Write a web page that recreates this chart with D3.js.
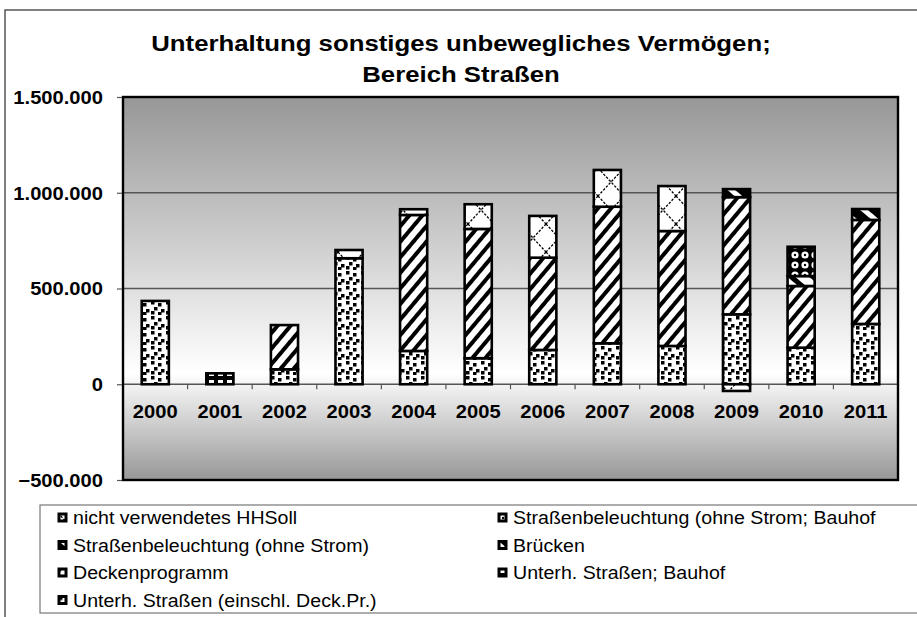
<!DOCTYPE html>
<html>
<head>
<meta charset="utf-8">
<script src="https://cdn.jsdelivr.net/npm/d3@7"></script>
<style>
body { margin: 0; background: #fff; }
svg { display: block; font-family: Arial, "Liberation Sans", sans-serif; }
</style>
</head>
<body>
<svg width="917" height="617"></svg>
<script>
// values (EUR)
var years = ["2000", "2001", "2002", "2003", "2004", "2005", "2006", "2007", "2008", "2009", "2010", "2011"];

var unterhStrDeck   = [435000, 0, 78000, 658000, 174000, 136000, 179000, 214000, 200000, 365000, 191000, 315000];
var unterhStrBauhof = [0, 57000, 0, 0, 0, 0, 0, 0, 0, 0, 0, 0];
var deckenprogramm  = [0, 0, 231000, 0, 710000, 675000, 482000, 713000, 600000, 612000, 322000, 543000];
var bruecken        = [0, 0, 0, 0, 0, 0, 0, 0, 0, 0, 52000, 0];
var beleuchtung     = [0, 0, 0, 0, 0, 0, 0, 0, 0, 42000, 0, 57000];
var beleuchtBauhof  = [0, 0, 0, 0, 0, 0, 0, 0, 0, 0, 153000, 0];
var hhSollRest      = [0, 0, 0, 43000, 30000, 129000, 218000, 192000, 235000, -35000, 0, 0];

var yTicks = [-500000, 0, 500000, 1000000, 1500000];
var gridTicks = [500000, 1000000];

// stacking order, bottom to top
var series = [
  { key: "deck",   name: "Unterh. Straßen (einschl. Deck.Pr.)", values: unterhStrDeck,   fill: "pDots" },
  { key: "bauhof", name: "Unterh. Straßen; Bauhof",             values: unterhStrBauhof, fill: "pBlocks" },
  { key: "decken", name: "Deckenprogramm",                      values: deckenprogramm,  fill: "pStripes" },
  { key: "brueck", name: "Brücken",                             values: bruecken,        fill: "pSwoosh" },
  { key: "bel",    name: "Straßenbeleuchtung (ohne Strom)",     values: beleuchtung,     fill: "pBand" },
  { key: "belBh",  name: "Straßenbeleuchtung (ohne Strom; Bauhof", values: beleuchtBauhof, fill: "pCircles" },
  { key: "soll",   name: "nicht verwendetes HHSoll",            values: hhSollRest,      fill: "pCross" }
];

var svg = d3.select("svg");
var sx = 1.12; // reference text is a bit wider than plain Arial

// note: "top" is taken by window.top, so plot edges get their own names
var plotL = 123, plotR = 898, plotT = 97, plotB = 480;

var x = d3.scaleBand().domain(years).range([plotL, plotR]).paddingInner(0.58).paddingOuter(0.29);
var y = d3.scaleLinear().domain([-500000, 1500000]).range([plotB, plotT]);

var de = d3.formatLocale({ decimal: ",", thousands: ".", grouping: [3], currency: ["", " €"] });
var fmt = de.format(",d");

// ---- defs: gradient + fill patterns
var defs = svg.append("defs");

var grad = defs.append("linearGradient").attr("id", "bg").attr("x1", 0).attr("y1", 0).attr("x2", 0).attr("y2", 1);
grad.append("stop").attr("offset", "0%").attr("stop-color", "#979797");
grad.append("stop").attr("offset", "72%").attr("stop-color", "#ffffff");
grad.append("stop").attr("offset", "100%").attr("stop-color", "#979797");

function pattern(id, w, h, bg, rot) {
  var p = defs.append("pattern").attr("id", id)
    .attr("patternUnits", "userSpaceOnUse").attr("width", w).attr("height", h);
  if (rot) p.attr("patternTransform", "rotate(" + rot + ")");
  p.append("rect").attr("width", w).attr("height", h).attr("fill", bg);
  return p;
}

var pd = pattern("pDots", 15, 15, "#fff");
[[1, 1], [8, 3], [4, 7], [11, 9], [1, 11], [8, 12]].forEach(function(d) {
  pd.append("rect").attr("x", d[0]).attr("y", d[1]).attr("width", 3.5).attr("height", 3.5).attr("fill", "#000");
});

var pb = pattern("pBlocks", 9, 7, "#000");
pb.append("rect").attr("x", 2).attr("y", 2).attr("width", 5).attr("height", 3).attr("fill", "#fff");

var ps = pattern("pStripes", 10, 10, "#fff", 40);
ps.append("rect").attr("width", 4).attr("height", 10).attr("fill", "#000");

var pw = pattern("pSwoosh", 14, 14, "#fff", -50);
pw.append("rect").attr("width", 5).attr("height", 14).attr("fill", "#000");

var pn = pattern("pBand", 14, 14, "#000", -50);
pn.append("rect").attr("width", 5).attr("height", 14).attr("fill", "#fff");

var pc = pattern("pCircles", 10, 10, "#000");
pc.append("circle").attr("cx", 5).attr("cy", 5).attr("r", 3.6).attr("fill", "#fff");
pc.append("circle").attr("cx", 5).attr("cy", 5).attr("r", 1.2).attr("fill", "#000");

var px = pattern("pCross", 26, 28, "#fff");
px.append("path").attr("d", "M0,0L26,28M26,0L0,28")
  .attr("stroke", "#000").attr("stroke-width", 1.3).attr("stroke-dasharray", "2.5,1.5").attr("fill", "none");

// ---- outer frame
svg.append("rect").attr("x", 5).attr("y", 10).attr("width", 940).attr("height", 640)
  .attr("fill", "none").attr("stroke", "#555").attr("stroke-width", 1.5);

// ---- title
function stretchedText(g, tx, ty, str, size, weight, anchor) {
  return g.append("text")
    .attr("transform", "translate(" + tx + "," + ty + ") scale(" + sx + ",1)")
    .attr("text-anchor", anchor || "start")
    .style("font-size", size + "px").style("font-weight", weight || "normal")
    .text(str);
}
stretchedText(svg, 461, 51, "Unterhaltung sonstiges unbewegliches Vermögen;", 23, "bold", "middle");
stretchedText(svg, 461, 82, "Bereich Straßen", 23, "bold", "middle");

// ---- plot background
svg.append("rect").attr("x", plotL).attr("y", plotT).attr("width", plotR - plotL).attr("height", plotB - plotT)
  .attr("fill", "url(#bg)");

svg.append("g").selectAll("line").data(gridTicks).join("line")
  .attr("x1", plotL).attr("x2", plotR)
  .attr("y1", function(d) { return y(d); }).attr("y2", function(d) { return y(d); })
  .attr("stroke", "#555").attr("stroke-width", 1.6);

// zero line with ticks between categories
var zero = svg.append("g");
zero.append("line").attr("x1", plotL).attr("x2", plotR).attr("y1", y(0)).attr("y2", y(0))
  .attr("stroke", "#555").attr("stroke-width", 1.6);
zero.selectAll("line.tk").data(years.slice(1)).join("line").attr("class", "tk")
  .attr("x1", function(d) { return x(d) - x.step() * x.paddingInner() / 2; })
  .attr("x2", function(d) { return x(d) - x.step() * x.paddingInner() / 2; })
  .attr("y1", y(0)).attr("y2", y(0) + 5)
  .attr("stroke", "#555").attr("stroke-width", 1.2);

// ---- stacked bars
var rows = years.map(function(yr, i) {
  var r = { year: yr };
  series.forEach(function(s) { r[s.key] = s.values[i]; });
  return r;
});

var stack = d3.stack().keys(series.map(function(s) { return s.key; }))
  .offset(d3.stackOffsetDiverging);
var stacked = stack(rows);

svg.append("g").selectAll("g").data(stacked).join("g")
  .attr("fill", function(d, i) { return "url(#" + series[i].fill + ")"; })
  .selectAll("rect")
  .data(function(d) { return d.filter(function(v) { return v[1] !== v[0]; }); })
  .join("rect")
  .attr("x", function(d) { return x(d.data.year); })
  .attr("width", x.bandwidth())
  .attr("y", function(d) { return y(Math.max(d[0], d[1])); })
  .attr("height", function(d) { return Math.abs(y(d[0]) - y(d[1])); })
  .attr("stroke", "#000").attr("stroke-width", 2.6);

// plot border
svg.append("rect").attr("x", plotL).attr("y", plotT).attr("width", plotR - plotL).attr("height", plotB - plotT)
  .attr("fill", "none").attr("stroke", "#000").attr("stroke-width", 2.4);

// ---- y axis
var yAxis = svg.append("g").attr("transform", "translate(" + (plotL - 1) + ",0)")
  .call(d3.axisLeft(y).tickValues(yTicks).tickFormat(fmt).tickSize(5).tickSizeOuter(0));
yAxis.select(".domain").remove();
yAxis.selectAll(".tick line").attr("stroke", "#555").attr("stroke-width", 1.2);
yAxis.selectAll(".tick text")
  .attr("x", -19 / sx).attr("dy", "0.36em")
  .attr("transform", "scale(" + sx + ",1)")
  .style("font-size", "18px").style("font-weight", "bold").attr("fill", "#000");

// ---- year labels
svg.append("g").selectAll("text").data(years).join("text")
  .attr("transform", function(d) { return "translate(" + (x(d) + x.bandwidth() / 2) + ",418) scale(" + sx + ",1)"; })
  .attr("text-anchor", "middle")
  .style("font-size", "18px").style("font-weight", "bold")
  .text(function(d) { return d; });

// ---- legend
svg.append("rect").attr("x", 40).attr("y", 505).attr("width", 900).attr("height", 108)
  .attr("fill", "#fff").attr("stroke", "#777").attr("stroke-width", 1.2);

var legendItems = series.slice().reverse();
var leg = svg.append("g").selectAll("g").data(legendItems).join("g")
  .attr("transform", function(d, i) {
    var col = i % 2, row = Math.floor(i / 2);
    return "translate(" + (col ? 498 : 58) + "," + (513 + row * 27.5) + ")";
  });
// small markers read as black squares with a bit of the pattern showing
leg.append("rect").attr("x", 1).attr("y", 1).attr("width", 7).attr("height", 7)
  .attr("fill", function(d) { return "url(#" + d.fill + ")"; })
  .attr("stroke", "#000").attr("stroke-width", 3);
leg.each(function(d) {
  stretchedText(d3.select(this), 15, 11, d.name, 17.5, "normal", "start");
});
</script>
</body>
</html>
